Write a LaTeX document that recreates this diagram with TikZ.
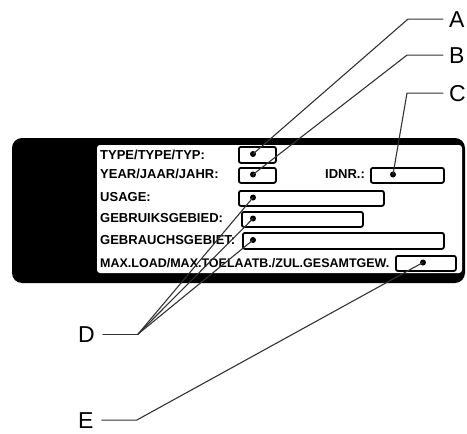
\documentclass[tikz,border=0pt]{standalone}
\usepackage{fontspec}
\setmainfont{Liberation Sans}
\begin{document}
\begin{tikzpicture}[x=1pt, y=-1pt, line join=round, line cap=round,
	field/.style={draw, line width=1.8pt, rounded corners=2pt, inner sep=0pt, anchor=north west},
	entry/.style={anchor=base west, inner sep=0pt, font=\fontsize{13}{13}\selectfont\bfseries},
	callout/.style={anchor=base west, inner sep=0pt, font=\fontsize{23}{23}\selectfont},
	leader/.style={draw=black!80, line width=1.1pt},
	dot/.style={circle, fill, inner sep=0pt, minimum size=6pt}]
	\useasboundingbox (0,0) rectangle (467,434);
	\fill[rounded corners=10pt] (12,138) rectangle (465,283);
	\fill[white, rounded corners=3pt] (97,145) rectangle (462,273);
	\node[entry] (ttype) at (100,159.6) {TYPE/TYPE/TYP:};
	\node[entry] (tyear) at (100,178.6) {YEAR/JAAR/JAHR:};
	\node[entry] (tidnr) at (325,178.6) {IDNR.:};
	\node[entry] (tusage) at (100,201.6) {USAGE:};
	\node[entry] (tgebruik) at (100,222.6) {GEBRUIKSGEBIED:};
	\node[entry] (tgebrauch) at (100,244.6) {GEBRAUCHSGEBIET:};
	\node[entry, font=\fontsize{12.5}{12.5}\selectfont\bfseries] (tload) at (100,267.4) {MAX.LOAD/MAX.TOELAATB./ZUL.GESAMTGEW.};
	\node[field, minimum width=37, minimum height=16] (btype) at (238,146) {};
	\node[field, minimum width=37, minimum height=15] (byear) at (238,167) {};
	\node[field, minimum width=73, minimum height=15] (bidnr) at (370,167) {};
	\node[field, minimum width=145, minimum height=15] (busage) at (238,190) {};
	\node[field, minimum width=121, minimum height=15] (bgebruik) at (241,211) {};
	\node[field, minimum width=201, minimum height=16] (bgebrauch) at (242,232) {};
	\node[field, minimum width=60, minimum height=15] (bload) at (395,255) {};
	\node[callout] (A) at (449,27) {A};
	\node[callout] (B) at (449,63) {B};
	\node[callout] (C) at (449,101) {C};
	\node[callout] (D) at (78,342) {D};
	\node[callout] (E) at (78,428) {E};
	\node[dot] (dtype) at (253,154) {};
	\node[dot] (dyear) at (253,174.5) {};
	\node[dot] (didnr) at (393,174.5) {};
	\node[dot] (dusage) at (253,197.5) {};
	\node[dot] (dgebruik) at (253,218.5) {};
	\node[dot] (dgebrauch) at (253,240) {};
	\node[dot] (dload) at (423,262.5) {};
	\draw[leader] ([xshift=-6]A.west) -- ++(-35,0) -- (dtype.center);
	\draw[leader] ([xshift=-6]B.west) -- ++(-36,0) -- (dyear.center);
	\draw[leader] ([xshift=-6]C.west) -- ++(-36,0) -- (didnr.center);
	\draw[leader] ([xshift=8]D.east) -- ++(35,0) coordinate (kD);
	\foreach \d in {dusage,dgebruik,dgebrauch}
		\draw[leader] (kD) -- (\d.center);
	\draw[leader] ([xshift=8]E.east) -- ++(35,0) -- (dload.center);
\end{tikzpicture}
\end{document}
